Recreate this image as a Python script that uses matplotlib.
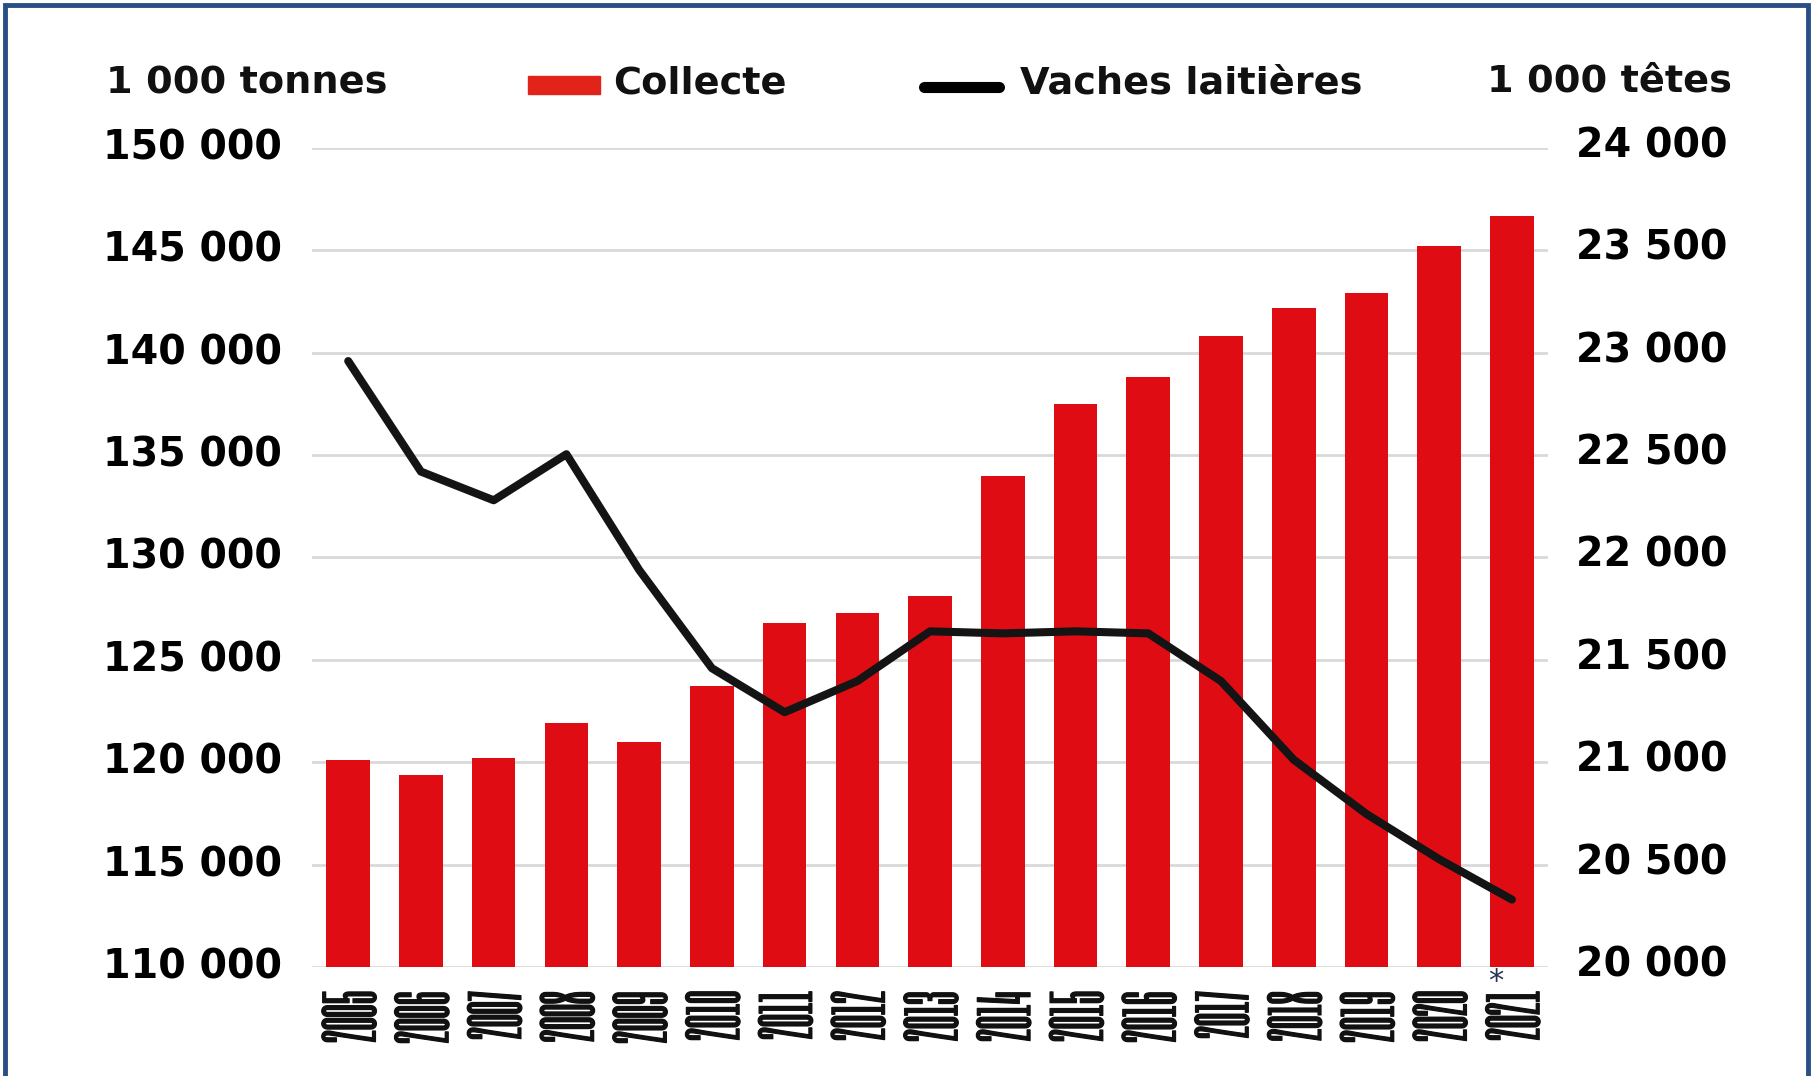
import matplotlib
matplotlib.use("Agg")
import matplotlib.pyplot as plt
from matplotlib.patches import Rectangle
from matplotlib.lines import Line2D
from matplotlib.ticker import FuncFormatter
from matplotlib.transforms import ScaledTranslation
import matplotlib.patheffects as pe

years = ["2005", "2006", "2007", "2008", "2009", "2010", "2011", "2012", "2013",
         "2014", "2015", "2016", "2017", "2018", "2019", "2020", "2021"]
collecte = [120100, 119400, 120200, 121900, 121000, 123700, 126800, 127300, 128100,
            134000, 137500, 138800, 140800, 142200, 142900, 145200, 146700]
vaches = [22930, 22390, 22250, 22475, 21910, 21430, 21215, 21367, 21610,
          21600, 21610, 21600, 21367, 20983, 20718, 20497, 20300]
left_ticks = [110000, 115000, 120000, 125000, 130000, 135000, 140000, 145000, 150000]
right_ticks = [20000, 20500, 21000, 21500, 22000, 22500, 23000, 23500, 24000]

RED = "#df0c14"
BLACK = "#141414"
BORDER = "#2a4f86"
HEAD = dict(family="DejaVu Sans", fontweight="bold", fontsize=27.5, color="#111111")

W, H = 1813, 1076
fig = plt.figure(figsize=(W / 100, H / 100), dpi=100)
pos = [0.172, 0.1013, 0.682, 0.7612]
ax = fig.add_axes(pos)
ax2 = fig.add_axes([pos[0], pos[1] + 6 / H, pos[2], pos[3]], sharex=ax)
ax2.patch.set_visible(False)

x = list(range(len(years)))
ax.bar(x, collecte, width=0.6, color=RED, zorder=2)
ax.set_ylim(110000, 150000)
ax.set_xlim(-0.5, 16.5)
ax.set_yticks(left_ticks)
fmt = FuncFormatter(lambda v, p: f"{int(v):,}".replace(",", " "))
ax.yaxis.set_major_formatter(fmt)
ax.grid(axis="y", color="#d9d9d9", lw=2, zorder=0)
ax.set_axisbelow(True)
ax.set_xticks(x)
ax.set_xticklabels(years, rotation=90, va="top", ha="center",
                   family=["Six Caps", "Anton"], fontsize=45, color="#111111")
for lab in ax.get_xticklabels():
    lab.set_path_effects([pe.withStroke(linewidth=0.9, foreground="#111111")])
ax.tick_params(axis="x", length=0, pad=17)
ax.tick_params(axis="y", length=0, pad=21.5)
up = ScaledTranslation(0, 4 / 100, fig.dpi_scale_trans)
for lab in ax.get_yticklabels():
    lab.set_family("DejaVu Sans"); lab.set_fontweight("bold"); lab.set_fontsize(28.5)
    lab.set_transform(lab.get_transform() + up)

ax2.plot(x, vaches, color=BLACK, lw=5.8, solid_capstyle="round", solid_joinstyle="round", zorder=3)
ax2.set_ylim(20000, 24000)
ax2.set_yticks(right_ticks)
ax2.yaxis.set_major_formatter(fmt)
ax2.yaxis.tick_right()
ax2.tick_params(axis="y", length=0, pad=20)
ax2.tick_params(axis="x", which="both", bottom=False, labelbottom=False)
for lab in ax2.get_yticklabels():
    lab.set_family("DejaVu Sans"); lab.set_fontweight("bold"); lab.set_fontsize(28.5)

for a in (ax, ax2):
    for s in a.spines.values():
        s.set_visible(False)

# asterisk on 2021
ax.annotate("*", xy=(16, 0), xycoords=("data", "axes fraction"), xytext=(-16, -14),
            textcoords="offset pixels", ha="center", va="center",
            family="DejaVu Sans", fontsize=22, color="#2a3550")

# header texts / legend
fig.text(106 / W, 1 - 84 / H, "1 000 tonnes", ha="left", va="center", **HEAD)
fig.text(1732 / W, 1 - 81 / H, "1 000 têtes", ha="right", va="center", **HEAD)
fig.patches.append(Rectangle((528 / W, 1 - 94 / H), 72 / W, 18 / H,
                             transform=fig.transFigure, color="#e2231a", figure=fig))
fig.text(613 / W, 1 - 84 / H, "Collecte", ha="left", va="center", **HEAD)
fig.lines.append(Line2D([924 / W, 999 / W], [1 - 87 / H, 1 - 87 / H],
                        transform=fig.transFigure, color="black", lw=8,
                        solid_capstyle="round", figure=fig))
fig.text(1020 / W, 1 - 84 / H, "Vaches laitières", ha="left", va="center", **HEAD)

# frame
fig.patches.append(Rectangle((5 / W, -0.1), 1 - 10 / W, 1.1 - 5 / H,
                             transform=fig.transFigure, fill=False, ec=BORDER, lw=3.5,
                             figure=fig))

fig.savefig("out.png", dpi=100, facecolor="white")
